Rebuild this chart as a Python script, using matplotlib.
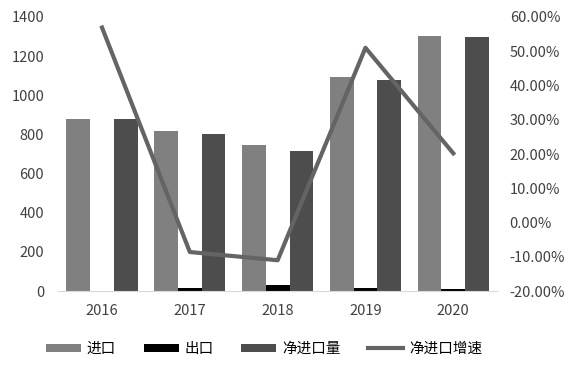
import matplotlib.pyplot as plt
import numpy as np

plt.rcParams['font.family'] = ['Noto Sans CJK SC', 'DejaVu Sans']

years = ['2016', '2017', '2018', '2019', '2020']
imports = [880, 817, 746, 1095, 1305]
exports = [3, 15, 29, 15, 10]
net_imports = [877, 802, 717, 1080, 1295]
growth = [56.9, -8.6, -11.0, 51.0, 20.2]


def plot_chart():
    fig = plt.figure(figsize=(5.87, 3.68), dpi=100)
    ax = fig.add_axes([0.099, 0.209, 0.748, 0.745])
    x = np.arange(len(years))
    w = 0.27

    b1 = ax.bar(x - w, imports, w, color='#808080', label='进口')
    b2 = ax.bar(x, exports, w, color='#000000', label='出口')
    b3 = ax.bar(x + w, net_imports, w, color='#4d4d4d', label='净进口量')

    ax.set_ylim(0, 1400)
    ax.set_yticks(range(0, 1401, 200))
    ax.set_xlim(-0.5, len(years) - 0.5)
    ax.set_xticks(x)
    ax.set_xticklabels(years)
    for s in ['top', 'right', 'left']:
        ax.spines[s].set_visible(False)
    ax.spines['bottom'].set_color('#d9d9d9')
    ax.tick_params(axis='y', length=0, pad=10, labelsize=10.5, colors='#404040')
    ax.tick_params(axis='x', length=0, pad=9, labelsize=10.5, colors='#404040')

    ax2 = ax.twinx()
    line, = ax2.plot(x, growth, color='#646464', linewidth=3, label='净进口增速')
    ax2.set_ylim(-20, 60)
    ticks = range(-20, 61, 10)
    ax2.set_yticks(ticks)
    ax2.set_yticklabels(['%.2f%%' % t for t in ticks])
    for s in ['top', 'right', 'left', 'bottom']:
        ax2.spines[s].set_visible(False)
    ax2.tick_params(axis='y', length=0, pad=9, labelsize=10.5, colors='#404040')

    fig.legend([b1, b2, b3, line], ['进口', '出口', '净进口量', '净进口增速'],
               loc='center', bbox_to_anchor=(0.45, 0.052), ncol=4, frameon=False,
               fontsize=10.5, handlelength=2.4, handleheight=0.5,
               columnspacing=1.9, handletextpad=0.4)

    fig.savefig('out.png', dpi=100)


def main():
    plot_chart()


if __name__ == "__main__":
    main()
